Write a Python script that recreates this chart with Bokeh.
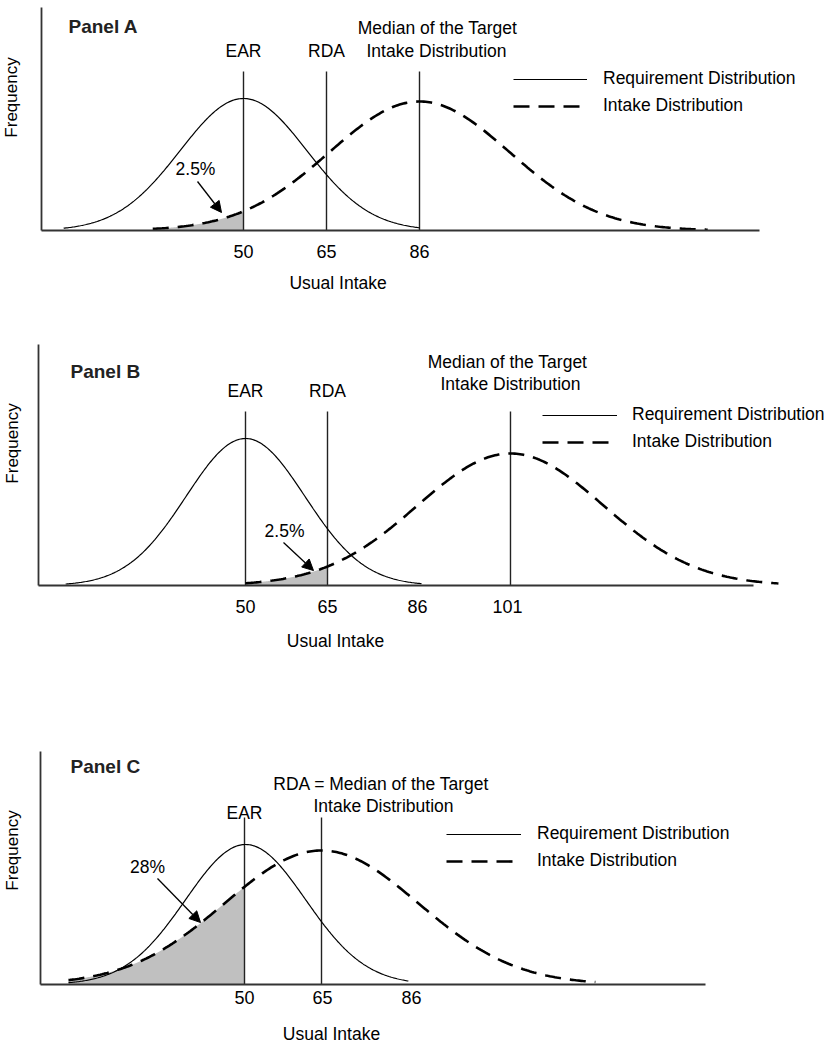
import numpy as np
from bokeh.plotting import figure
from bokeh.layouts import column
from bokeh.models import (Range1d, FixedTicker, Legend, LegendItem, Arrow, NormalHead, LinearAxis)
from bokeh.core.properties import value
from bokeh.embed import file_html
from bokeh.resources import INLINE

FONT = "Liberation Sans"
TXT = "17.5px"
TICK = "18px"
PX_PER_UNIT = 5.5   # horizontal scale of the schematic intake axis
TXT_DY = 7          # lift of text glyphs so their baselines sit where intended

# ---------------- data (schematic positions along the "usual intake" axis) -------------
# Panel A
A_TICK_POS = [50, 65.09, 82.0]
A_TICK_LABELS = ["50", "65", "86"]
A_LINE_POS = [50, 65.09, 82.0]          # EAR, RDA, median of the target intake distribution
A_REQ = dict(mean=50, sd=11.5, peak=132, lo=17.3, hi=82.0)
A_INTAKE = dict(mean=82.0, sd=16.4, peak=129, lo=33.5, hi=134.4)
A_SHADE = [33.5, 50]
A_PCT = "2.5%"

# Panel B
B_TICK_POS = [50, 64.91, 81.27, 97.64]
B_TICK_LABELS = ["50", "65", "86", "101"]
B_LINE_POS = [50, 64.91, 98.18]
B_REQ = dict(mean=50, sd=10.8, peak=147, lo=17.3, hi=82.0)
B_INTAKE = dict(mean=98.18, sd=16.9, peak=132, lo=50, hi=146.9)
B_SHADE = [50, 64.91]
B_PCT = "2.5%"

# Panel C
C_TICK_POS = [50, 64.18, 80.36]
C_TICK_LABELS = ["50", "65", "86"]
C_LINE_POS = [50, 64.0]                 # EAR, RDA (= median of target intake)
C_REQ = dict(mean=50.2, sd=10.9, peak=140, lo=18.0, hi=79.8)
C_INTAKE = dict(mean=64.0, sd=17.6, peak=134, lo=18.0, hi=113.8)
C_SHADE = [18.0, 50]
C_PCT = "28%"

LEGEND_LABELS = ["Requirement Distribution", "Intake Distribution"]


def normal_curve(d, lo=None, hi=None, n=300):
    lo = d["lo"] if lo is None else lo
    hi = d["hi"] if hi is None else hi
    x = np.linspace(lo, hi, n)
    return x, d["peak"] * np.exp(-0.5 * ((x - d["mean"]) / d["sd"]) ** 2)


def make_panel(*, height, x_start, y_start, axis_x, axis_top, ticks, tick_labels, tick_standoff,
               xlabel, xlabel_xy, req, intake, shade, line_pos, line_top, top_texts, panel_label,
               pct, pct_xy, arrow, legend_loc, legend_glyph_w, legend_standoff, freq_xy):
    width = 836
    p = figure(width=width, height=height,
               x_range=Range1d(x_start, x_start + width / PX_PER_UNIT),
               y_range=Range1d(y_start, y_start + height),
               x_axis_type=None, y_axis_type=None,
               output_backend="svg", toolbar_location=None,
               min_border_left=0, min_border_right=0, min_border_top=0, min_border_bottom=0)
    p.outline_line_color = None
    p.background_fill_color = "white"
    p.border_fill_color = "white"

    # x axis (real axis, drawn at y = 0, limited to the drawn baseline)
    xa = LinearAxis(fixed_location=0, bounds=(axis_x[0], axis_x[1]))
    xa.ticker = FixedTicker(ticks=ticks)
    xa.major_label_overrides = {t: l for t, l in zip(ticks, tick_labels)}
    xa.major_tick_line_color = None
    xa.minor_tick_line_color = None
    xa.major_label_text_font = FONT
    xa.major_label_text_font_size = TICK
    xa.major_label_text_color = "black"
    xa.major_label_standoff = tick_standoff
    xa.axis_line_color = "#333333"
    xa.axis_line_width = 1.8
    p.add_layout(xa, "below")

    # y axis: line only
    ya = LinearAxis(fixed_location=axis_x[0], bounds=(0, axis_top))
    ya.ticker = FixedTicker(ticks=[])
    ya.major_tick_line_color = None
    ya.minor_tick_line_color = None
    ya.major_label_text_font_size = "0px"
    ya.axis_line_color = "#333333"
    ya.axis_line_width = 1.8
    p.add_layout(ya, "left")

    # shaded area under intake curve
    sx, sy = normal_curve(intake, shade[0], shade[1])
    p.varea(x=sx, y1=np.zeros_like(sx), y2=sy, fill_color="#c0c0c0")

    # vertical reference lines
    p.segment(x0=line_pos, y0=[0] * len(line_pos), x1=line_pos, y1=[line_top] * len(line_pos),
              line_color="#222222", line_width=1.4)

    rx, ry = normal_curve(req)
    r_req = p.line(rx, ry, line_color="black", line_width=1.2)
    ix, iy = normal_curve(intake)
    r_int = p.line(ix, iy, line_color="black", line_width=2.6, line_dash="16 9")

    # labels above the reference lines
    tx, ty, tt = zip(*top_texts)
    p.text(x=list(tx), y=[v + TXT_DY for v in ty], text=list(tt), text_font=value(FONT),
           text_font_size=TXT, text_align="center", text_baseline="alphabetic", text_color="black")

    p.text(x=[panel_label[0]], y=[panel_label[1] + TXT_DY], text=[panel_label[2]],
           text_font=value(FONT), text_font_size="19px", text_font_style="bold",
           text_align="left", text_baseline="alphabetic", text_color="#222222")

    p.text(x=[pct_xy[0]], y=[pct_xy[1] + TXT_DY], text=[pct], text_font=value(FONT),
           text_font_size=TXT, text_align="center", text_baseline="alphabetic", text_color="black")

    # x axis title
    p.text(x=[xlabel_xy[0]], y=[xlabel_xy[1] + TXT_DY], text=[xlabel], text_font=value(FONT),
           text_font_size=TXT, text_align="center", text_baseline="alphabetic", text_color="black")

    # y axis title
    p.text(x=[freq_xy[0] - TXT_DY / PX_PER_UNIT], y=[freq_xy[1]], text=["Frequency"],
           angle=np.pi / 2, text_font=value(FONT), text_font_size="17px", text_align="center",
           text_baseline="alphabetic", text_color="black")

    p.add_layout(Arrow(end=NormalHead(size=11, fill_color="black", line_color="black"),
                       x_start=arrow[0], y_start=arrow[1], x_end=arrow[2], y_end=arrow[3],
                       line_color="black", line_width=1.3))

    legend = Legend(items=[LegendItem(label=LEGEND_LABELS[0], renderers=[r_req]),
                           LegendItem(label=LEGEND_LABELS[1], renderers=[r_int])],
                    location=legend_loc, orientation="vertical",
                    glyph_width=legend_glyph_w, glyph_height=20, label_height=20,
                    label_standoff=legend_standoff, spacing=6, padding=0, margin=0,
                    border_line_color=None, background_fill_alpha=0,
                    label_text_font=FONT, label_text_font_size=TXT, label_text_color="black")
    p.add_layout(legend)
    return p


pA = make_panel(height=300, x_start=5.818, y_start=-70, axis_x=(13.27, 143.82), axis_top=223,
                ticks=A_TICK_POS, tick_labels=A_TICK_LABELS, tick_standoff=8,
                xlabel="Usual  Intake", xlabel_xy=(67.64, -59),
                req=A_REQ, intake=A_INTAKE, shade=A_SHADE, line_pos=A_LINE_POS, line_top=159,
                top_texts=[(A_LINE_POS[0], 173, "EAR"), (A_LINE_POS[1], 173, "RDA"),
                           (85.27, 196, "Median of the Target"), (85.09, 173, "Intake Distribution")],
                panel_label=(18.18, 197, "Panel A"), pct=A_PCT, pct_xy=(41.27, 55),
                arrow=(41.64, 49, 46.0, 18), legend_loc=(513, 184), legend_glyph_w=74,
                legend_standoff=16, freq_xy=(9.18, 133))

pB = make_panel(height=400, x_start=5.455, y_start=-115, axis_x=(12.36, 142.36), axis_top=241,
                ticks=B_TICK_POS, tick_labels=B_TICK_LABELS, tick_standoff=8,
                xlabel="Usual Intake", xlabel_xy=(66.36, -62),
                req=B_REQ, intake=B_INTAKE, shade=B_SHADE, line_pos=B_LINE_POS, line_top=174,
                top_texts=[(B_LINE_POS[0], 188, "EAR"), (B_LINE_POS[1], 188, "RDA"),
                           (97.64, 217, "Median of the Target"), (98.18, 195, "Intake Distribution")],
                panel_label=(18.18, 207, "Panel B"), pct=B_PCT, pct_xy=(57.09, 48),
                arrow=(56.91, 43, 62.36, 15), legend_loc=(542, 248), legend_glyph_w=75,
                legend_standoff=15, freq_xy=(8.82, 142))

pC = make_panel(height=348, x_start=5.636, y_start=-64, axis_x=(12.91, 133.82), axis_top=233,
                ticks=C_TICK_POS, tick_labels=C_TICK_LABELS, tick_standoff=0,
                xlabel="Usual Intake", xlabel_xy=(65.82, -56),
                req=C_REQ, intake=C_INTAKE, shade=C_SHADE, line_pos=C_LINE_POS, line_top=167,
                top_texts=[(C_LINE_POS[0], 165, "EAR"),
                           (74.91, 194, "RDA = Median of the Target"), (75.27, 172, "Intake Distribution")],
                panel_label=(18.36, 211, "Panel C"), pct=C_PCT, pct_xy=(32.36, 111),
                arrow=(34.18, 106, 42.0, 62), legend_loc=(446, 177), legend_glyph_w=75,
                legend_standoff=16, freq_xy=(9.0, 134))

layout = column(pA, pB, pC, spacing=0)
open("out.html", "w").write(file_html(layout, INLINE))
